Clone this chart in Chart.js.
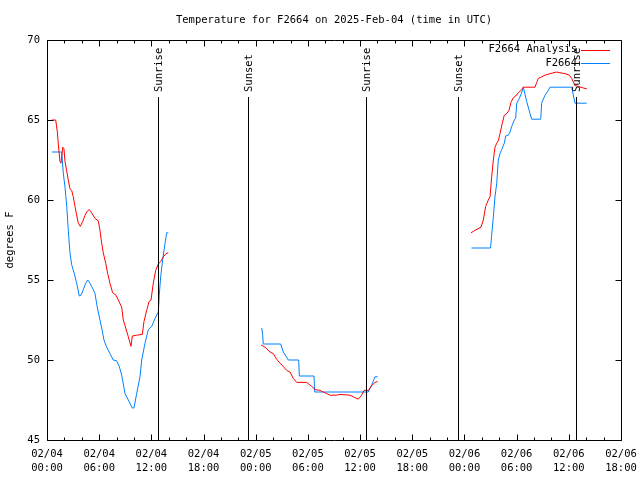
<!DOCTYPE html>
<html>
<head>
<meta charset="utf-8">
<script src="https://cdn.jsdelivr.net/npm/chart.js@4/dist/chart.umd.min.js"></script>
<style>
  html, body { margin: 0; padding: 0; background: #fff; }
  canvas { display: block; }
</style>
</head>
<body>
<canvas id="c" width="640" height="480"></canvas>
<script>
// ---- Data (hours since 02/04 00:00 UTC; null breaks the line) ----
const chartTitle = "Temperature for F2664 on 2025-Feb-04 (time in UTC)";
const yAxisTitle = "degrees F";
const seriesNames = ["F2664 Analysis", "F2664"];

const analysisHours = [
  0.55,1.0,1.18,1.30,1.49,1.61,1.81,1.95,2.07,2.27,2.45,2.64,2.84,3.02,3.22,3.41,3.60,3.83,4.10,4.37,4.63,4.86,5.14,5.52,5.90,6.09,6.29,6.47,6.75,6.98,7.24,7.55,7.93,8.20,8.59,8.77,9.05,9.35,9.66,9.81,10.31,10.96,11.15,11.46,11.73,11.96,12.22,12.50,12.80,13.07,13.37,13.68,13.95,
  20,
  24.61,25.07,25.64,26.02,26.41,26.79,27.17,27.56,27.94,28.32,28.71,29.86,30.44,30.82,31.39,32.16,32.54,33.31,33.69,34.84,35.41,35.79,36.18,36.45,36.94,37.34,37.71,38.02,
  44,
  48.75,49.21,49.90,50.17,50.44,50.74,50.94,51.13,51.32,51.51,51.71,51.89,52.09,52.35,52.58,52.86,53.12,53.35,53.62,53.89,54.19,54.58,54.77,56.11,56.31,56.49,56.88,57.26,57.84,58.61,58.99,59.56,60.06,60.33,60.71,61.09,61.67,62.06
];
const analysisTemps = [
  65.0,65.0,64.3,63.5,62.4,62.3,63.3,63.2,62.4,61.8,61.25,60.7,60.6,60.2,59.6,59.05,58.55,58.35,58.65,59.05,59.3,59.4,59.2,58.85,58.7,58.1,57.3,56.7,56.05,55.4,54.8,54.2,54.05,53.75,53.3,52.5,52.0,51.45,50.85,51.5,51.55,51.6,52.4,53.1,53.65,53.75,54.8,55.6,56.0,56.15,56.45,56.65,56.7,
  null,
  50.95,50.8,50.5,50.4,50.05,49.8,49.6,49.35,49.25,48.85,48.6,48.6,48.35,48.15,48.1,47.9,47.8,47.8,47.85,47.8,47.65,47.55,47.8,48.1,48.1,48.4,48.6,48.65,
  null,
  57.95,58.1,58.3,58.75,59.6,60.0,60.2,61.45,62.5,63.3,63.55,63.7,64.15,64.8,65.3,65.4,65.6,66.1,66.4,66.5,66.7,66.9,67.05,67.05,67.35,67.6,67.7,67.8,67.9,68.0,67.95,67.9,67.8,67.6,67.15,67.1,67.0,66.95
];

const obsHours = [
  0.55,1.69,1.87,2.07,2.27,2.45,2.64,2.84,3.14,3.41,3.71,3.91,4.17,4.45,4.68,4.94,5.32,5.52,5.78,6.09,6.29,6.55,6.86,7.24,7.62,8.01,8.31,8.59,8.97,9.35,9.81,10.0,10.31,10.69,10.89,11.27,11.65,12.04,12.42,12.80,12.91,13.07,13.30,13.57,13.76,13.95,
  20,
  24.69,24.80,24.87,26.87,27.17,27.75,28.94,29.01,30.70,30.78,36.94,37.34,37.71,38.02,
  44,
  48.81,51.0,51.13,51.32,51.51,51.71,51.89,52.09,52.28,52.58,52.74,53.04,53.24,53.43,53.73,53.89,54.01,54.31,54.58,54.77,55.16,55.54,55.73,56.77,56.88,57.26,57.53,57.84,60.33,60.71,62.06
];
const obsTemps = [
  63.0,63.0,61.7,60.8,59.6,58.1,56.7,55.95,55.4,54.8,54.0,54.05,54.4,54.8,55.0,54.8,54.4,54.15,53.3,52.5,52.0,51.25,50.8,50.4,50.0,49.95,49.6,49.05,47.9,47.5,47.0,47.0,47.9,48.95,50.0,51.05,51.9,52.1,52.6,53.0,54.05,55.2,56.25,57.3,57.95,57.95,
  null,
  52.0,51.55,51.0,51.0,50.5,50.0,50.0,49.0,49.0,48.0,48.0,48.45,48.95,48.95,
  null,
  57.0,57.0,57.8,58.95,60.2,61.05,62.5,62.9,63.15,63.55,64.0,64.05,64.25,64.6,65.0,65.1,66.05,66.35,66.7,67.05,66.15,65.4,65.05,65.05,66.05,66.55,66.75,67.05,67.05,66.05,66.05
];

// sun events (hours since 02/04 00:00 UTC)
const eventLabels = ["Sunrise", "Sunset", "Sunrise", "Sunset", "Sunrise"];
const eventHours  = [12.76, 23.11, 36.68, 47.26, 60.83];

// axes
const xMinHour = 0, xMaxHour = 66, xLabelStep = 6, xMinorStep = 2;
const yMin = 45, yMax = 70, yStep = 5;
const startDay = 4, monthStr = "02";

// ---- styles ----
const FONT = '"DejaVu Sans Mono", "Liberation Mono", monospace';
const FSIZE = 10.5;
const colors = ["#ff0000", "#0080ff"];

function toPoints(hs, ts) { return hs.map((h, i) => ({ x: h, y: ts[i] })); }

const overlay = {
  id: 'overlay',
  afterDatasetsDraw(chart) {
    const { ctx, chartArea: ca, scales: { x, y } } = chart;
    ctx.save();
    ctx.strokeStyle = '#000';
    ctx.lineWidth = 1;
    const L = Math.round(ca.left) + 0.5, R = Math.round(ca.right) + 0.5;
    const T = Math.round(ca.top) + 0.5, B = Math.round(ca.bottom) + 0.5;
    // frame
    ctx.beginPath();
    ctx.rect(L, T, R - L, B - T);
    ctx.stroke();
    // x ticks (inward, top and bottom)
    ctx.beginPath();
    for (let h = xMinHour; h <= xMaxHour; h += xMinorStep) {
      const px = Math.round(x.getPixelForValue(h)) + 0.5;
      const len = (h % xLabelStep === 0) ? 6 : 3;
      ctx.moveTo(px, B); ctx.lineTo(px, B - len);
      ctx.moveTo(px, T); ctx.lineTo(px, T + len);
    }
    // y ticks (inward, left and right)
    for (let v = yMin; v <= yMax; v += yStep) {
      const py = Math.round(y.getPixelForValue(v)) + 0.5;
      ctx.moveTo(L, py); ctx.lineTo(L + 6, py);
      ctx.moveTo(R, py); ctx.lineTo(R - 6, py);
    }
    ctx.stroke();
    // sun event lines + labels
    ctx.font = FSIZE + 'px ' + FONT;
    ctx.fillStyle = '#000';
    eventHours.forEach((h, i) => {
      const px = Math.round(x.getPixelForValue(h)) + 0.5;
      ctx.beginPath();
      ctx.moveTo(px, ca.top + 57);
      ctx.lineTo(px, B);
      ctx.stroke();
      ctx.save();
      ctx.translate(px + 1, ca.top + 52);
      ctx.rotate(-Math.PI / 2);
      ctx.textAlign = 'left';
      ctx.textBaseline = 'middle';
      ctx.fillText(eventLabels[i], 0, 0);
      ctx.restore();
    });
    // legend (top right, inside)
    ctx.textAlign = 'right';
    ctx.textBaseline = 'middle';
    seriesNames.forEach((name, i) => {
      const ly = ca.top + 9.5 + i * 13.5;
      ctx.fillStyle = '#000';
      ctx.fillText(name, ca.right - 44, ly);
      ctx.strokeStyle = colors[i];
      ctx.beginPath();
      ctx.moveTo(ca.right - 40, Math.round(ly) + 0.5);
      ctx.lineTo(ca.right - 11, Math.round(ly) + 0.5);
      ctx.stroke();
    });
    // title
    ctx.fillStyle = '#000';
    ctx.textAlign = 'center';
    ctx.fillText(chartTitle, (ca.left + ca.right) / 2, 20);
    // y axis title
    ctx.save();
    ctx.translate(10, (ca.top + ca.bottom) / 2);
    ctx.rotate(-Math.PI / 2);
    ctx.textAlign = 'center';
    ctx.textBaseline = 'middle';
    ctx.fillText(yAxisTitle, 0, 0);
    ctx.restore();
    ctx.restore();
  }
};

new Chart(document.getElementById('c'), {
  type: 'line',
  data: {
    datasets: [
      { label: seriesNames[0], data: toPoints(analysisHours, analysisTemps),
        borderColor: colors[0], borderWidth: 1, pointRadius: 0, tension: 0, spanGaps: false, fill: false },
      { label: seriesNames[1], data: toPoints(obsHours, obsTemps),
        borderColor: colors[1], borderWidth: 1, pointRadius: 0, tension: 0, spanGaps: false, fill: false }
    ]
  },
  options: {
    responsive: false,
    animation: false,
    devicePixelRatio: 1,
    layout: { padding: { top: 40, right: 19, left: 0, bottom: 0 } },
    plugins: { legend: { display: false }, tooltip: { enabled: false }, title: { display: false } },
    scales: {
      x: {
        type: 'linear', min: xMinHour, max: xMaxHour,
        afterFit: s => { s.height = 40; s.paddingLeft = 0; s.paddingRight = 0; },
        grid: { display: false, drawTicks: false },
        border: { display: false },
        ticks: {
          stepSize: xLabelStep, autoSkip: false, maxRotation: 0, minRotation: 0,
          padding: 7, color: '#000',
          font: { family: FONT, size: FSIZE, lineHeight: 1.35 },
          callback: v => {
            const day = startDay + Math.floor(v / 24);
            const hr = v % 24;
            return [monthStr + '/' + String(day).padStart(2, '0'), String(hr).padStart(2, '0') + ':00'];
          }
        }
      },
      y: {
        min: yMin, max: yMax,
        afterFit: s => { s.width = 47; s.paddingTop = 0; s.paddingBottom = 0; },
        grid: { display: false, drawTicks: false },
        border: { display: false },
        ticks: { stepSize: yStep, padding: 7, color: '#000', font: { family: FONT, size: FSIZE } }
      }
    }
  },
  plugins: [overlay]
});
</script>
</body>
</html>
